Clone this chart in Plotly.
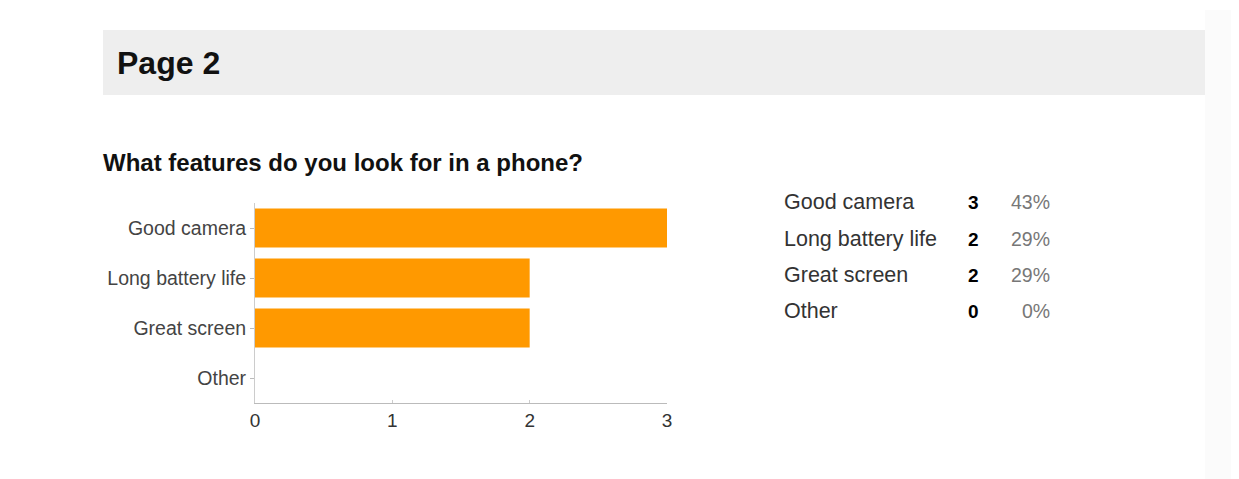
import plotly.graph_objects as go

# ---- data ----
categories = ["Good camera", "Long battery life", "Great screen", "Other"]
counts = [3, 2, 2, 0]
x_ticks = [0, 1, 2, 3]
page_title = "Page 2"
question = "What features do you look for in a phone?"

total = sum(counts)
percents = [f"{round(c / total * 100)}%" for c in counts]

OFF = 8  # browser body margin
W, H = 1239 - OFF, 479 - OFF
# plot area in page pixels
PL, PR, PT, PB = 255, 667, 203, 403
L, R, T, B = PL - OFF, PR - OFF, PT - OFF, PB - OFF


def px_x(px):
    return (px - PL) / (PR - PL)


def px_y(py):
    return (PB - py) / (PB - PT)


fig = go.Figure()
fig.add_trace(go.Bar(
    y=categories, x=counts, orientation="h", width=0.78,
    marker=dict(color="#ff9900", line=dict(width=0)),
    hoverinfo="skip",
))

FONT = "Liberation Sans, Arial, sans-serif"

shapes = [
    dict(type="rect", xref="paper", yref="paper",
         x0=px_x(103), x1=px_x(1205), y0=px_y(30), y1=px_y(95),
         fillcolor="#eeeeee", line=dict(width=0), layer="below"),
    dict(type="rect", xref="paper", yref="paper",
         x0=px_x(1205), x1=px_x(1245), y0=px_y(10), y1=px_y(485),
         fillcolor="#fbfbfb", line=dict(width=0), layer="below"),
]

annotations = [
    dict(text=f"<b>{page_title}</b>", xref="paper", yref="paper",
         x=px_x(115), y=px_y(63), xanchor="left", yanchor="middle",
         showarrow=False, font=dict(family=FONT, size=32, color="#111111")),
    dict(text=f"<b>{question}</b>", xref="paper", yref="paper",
         x=px_x(101), y=px_y(162), xanchor="left", yanchor="middle",
         showarrow=False, font=dict(family=FONT, size=24, color="#111111")),
]

row_y = [202, 239, 275, 311]
for cat, cnt, pct, ry in zip(categories, counts, percents, row_y):
    annotations.append(dict(text=cat, xref="paper", yref="paper",
                            x=px_x(782), y=px_y(ry), xanchor="left", yanchor="middle",
                            showarrow=False, font=dict(family=FONT, size=21.5, color="#333333")))
    annotations.append(dict(text=f"<b>{cnt}</b>", xref="paper", yref="paper",
                            x=px_x(973), y=px_y(ry), xanchor="center", yanchor="middle",
                            showarrow=False, font=dict(family=FONT, size=19, color="#000000")))
    annotations.append(dict(text=pct, xref="paper", yref="paper",
                            x=px_x(1052), y=px_y(ry), xanchor="right", yanchor="middle",
                            showarrow=False, font=dict(family=FONT, size=19.5, color="#777777")))

fig.update_layout(
    width=W, height=H,
    margin=dict(l=L, r=W - R, t=T, b=H - B, pad=0),
    paper_bgcolor="#ffffff", plot_bgcolor="#ffffff",
    showlegend=False, bargap=0.22,
    shapes=shapes, annotations=annotations,
    font=dict(family=FONT),
    xaxis=dict(range=[0, 3], tickvals=x_ticks, showgrid=False, zeroline=False,
               showline=True, linecolor="#bbbbbb", linewidth=1,
               ticks="inside", ticklen=3, tickcolor="#cccccc",
               tickfont=dict(family=FONT, size=19, color="#333333"),
               fixedrange=True),
    yaxis=dict(categoryorder="array", categoryarray=categories, autorange="reversed",
               showgrid=False, zeroline=False, showline=True, linecolor="#cccccc",
               linewidth=1, ticks="outside", ticklen=4, tickcolor="#bbbbbb",
               tickfont=dict(family=FONT, size=19.5, color="#444444"),
               fixedrange=True),
)

fig.write_html("out.html", config={"displayModeBar": False})
